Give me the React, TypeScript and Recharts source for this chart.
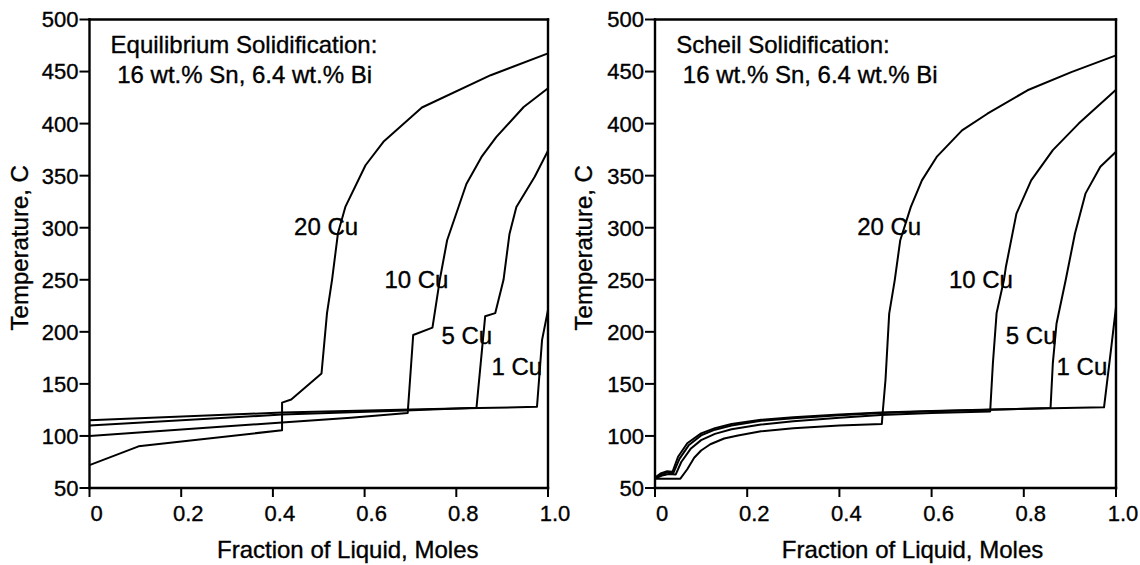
import React from 'react';
import { LineChart, Line, XAxis, YAxis, ReferenceDot } from 'recharts';

const FONT = '"Liberation Sans", Arial, Helvetica, sans-serif';

const xTicks = [0, 0.2, 0.4, 0.6, 0.8, 1.0];
const xTickLabels = ['0', '0.2', '0.4', '0.6', '0.8', '1.0'];
const yTicks = [50, 100, 150, 200, 250, 300, 350, 400, 450, 500];

// Equilibrium solidification, temperature (C) vs fraction of liquid
const eq1Cu = [
  { x: 0, t: 115 }, { x: 0.42, t: 122.5 }, { x: 0.7, t: 125.5 }, { x: 0.85, t: 126.8 },
  { x: 0.976, t: 128 }, { x: 0.987, t: 192 }, { x: 1.0, t: 221 },
];
const eq5Cu = [
  { x: 0, t: 110 }, { x: 0.42, t: 120.5 }, { x: 0.69, t: 124.5 }, { x: 0.844, t: 127 },
  { x: 0.863, t: 215 }, { x: 0.885, t: 218 }, { x: 0.903, t: 250 }, { x: 0.916, t: 294 },
  { x: 0.931, t: 320 }, { x: 0.971, t: 349 }, { x: 1.0, t: 374 },
];
const eq10Cu = [
  { x: 0, t: 100 }, { x: 0.1, t: 103 }, { x: 0.42, t: 113 }, { x: 0.57, t: 117.5 },
  { x: 0.694, t: 122 }, { x: 0.706, t: 197 }, { x: 0.748, t: 204 }, { x: 0.764, t: 250 },
  { x: 0.78, t: 288 }, { x: 0.822, t: 342 }, { x: 0.855, t: 368 }, { x: 0.887, t: 387 },
  { x: 0.947, t: 416 }, { x: 1.0, t: 434 },
];
const eq20Cu = [
  { x: 0, t: 72 }, { x: 0.107, t: 90 }, { x: 0.42, t: 105.5 }, { x: 0.42, t: 132 },
  { x: 0.44, t: 135 }, { x: 0.506, t: 160 }, { x: 0.518, t: 218 }, { x: 0.529, t: 250 },
  { x: 0.542, t: 295 }, { x: 0.558, t: 320 }, { x: 0.602, t: 360 }, { x: 0.641, t: 382.5 },
  { x: 0.725, t: 415.5 }, { x: 0.875, t: 446.5 }, { x: 1.0, t: 467.5 },
];

// Scheil solidification
const sc1Cu = [
  { x: 0, t: 60 }, { x: 0.012, t: 64 }, { x: 0.025, t: 66 }, { x: 0.038, t: 65.5 },
  { x: 0.05, t: 80 }, { x: 0.07, t: 93 }, { x: 0.1, t: 102.5 }, { x: 0.13, t: 107.5 },
  { x: 0.166, t: 111.5 }, { x: 0.23, t: 115.5 }, { x: 0.3, t: 118 }, { x: 0.4, t: 120.5 },
  { x: 0.49, t: 122.5 }, { x: 0.6, t: 124 }, { x: 0.73, t: 125.5 }, { x: 0.86, t: 126.5 },
  { x: 0.974, t: 127.5 }, { x: 0.99, t: 186 }, { x: 1.0, t: 224 },
];
const sc5Cu = [
  { x: 0, t: 59.5 }, { x: 0.013, t: 63 }, { x: 0.027, t: 65 }, { x: 0.04, t: 64.5 },
  { x: 0.053, t: 78 }, { x: 0.073, t: 91 }, { x: 0.1, t: 100.5 }, { x: 0.13, t: 106 },
  { x: 0.166, t: 110 }, { x: 0.23, t: 114.5 }, { x: 0.3, t: 117 }, { x: 0.4, t: 119.8 },
  { x: 0.49, t: 122 }, { x: 0.6, t: 123.8 }, { x: 0.73, t: 125.2 }, { x: 0.858, t: 126.8 },
  { x: 0.863, t: 170 }, { x: 0.871, t: 208 }, { x: 0.891, t: 250 }, { x: 0.911, t: 294.5 },
  { x: 0.934, t: 333 }, { x: 0.966, t: 358.5 }, { x: 1.0, t: 373 },
];
const sc10Cu = [
  { x: 0, t: 59 }, { x: 0.015, t: 62 }, { x: 0.03, t: 63.5 }, { x: 0.045, t: 63 },
  { x: 0.057, t: 75 }, { x: 0.078, t: 88 }, { x: 0.1, t: 96 }, { x: 0.13, t: 102 },
  { x: 0.166, t: 106.5 }, { x: 0.23, t: 111 }, { x: 0.3, t: 114 }, { x: 0.4, t: 117.5 },
  { x: 0.49, t: 120 }, { x: 0.6, t: 122 }, { x: 0.727, t: 123.5 }, { x: 0.733, t: 170 },
  { x: 0.741, t: 218 }, { x: 0.757, t: 250 }, { x: 0.761, t: 262 }, { x: 0.784, t: 313.5 },
  { x: 0.816, t: 345.5 }, { x: 0.863, t: 374.5 }, { x: 0.919, t: 400 }, { x: 1.0, t: 432.5 },
];
const sc20Cu = [
  { x: 0, t: 59 }, { x: 0.055, t: 59 }, { x: 0.07, t: 68 }, { x: 0.085, t: 79 },
  { x: 0.1, t: 86 }, { x: 0.12, t: 92 }, { x: 0.15, t: 97.5 }, { x: 0.18, t: 100.5 },
  { x: 0.23, t: 104.5 }, { x: 0.3, t: 107.5 }, { x: 0.4, t: 110 }, { x: 0.492, t: 111.5 },
  { x: 0.494, t: 123 }, { x: 0.5, t: 154 }, { x: 0.508, t: 217.5 }, { x: 0.52, t: 249.5 },
  { x: 0.532, t: 288 }, { x: 0.555, t: 320 }, { x: 0.579, t: 345.5 }, { x: 0.611, t: 368 },
  { x: 0.666, t: 393.5 }, { x: 0.721, t: 409.5 }, { x: 0.808, t: 432 }, { x: 0.903, t: 449.5 },
  { x: 1.0, t: 465.5 },
];

const curveNames = ['20 Cu', '10 Cu', '5 Cu', '1 Cu'];
// where each curve name sits, in data units (fraction, C)
const eqNameAt = [
  { x: 0.516, t: 301.5 }, { x: 0.713, t: 250 }, { x: 0.823, t: 197 }, { x: 0.932, t: 166.5 },
];
const scNameAt = [
  { x: 0.508, t: 301.5 }, { x: 0.707, t: 250 }, { x: 0.816, t: 197 }, { x: 0.926, t: 166.5 },
];

const composition = ' 16 wt.% Sn, 6.4 wt.% Bi';

// the scanned original has heavy type, a thin outline gets close to it
const ink = { fill: '#000', stroke: '#000', strokeWidth: 0.35 };

const XTick = (props: any) => {
  const { x, y, payload } = props;
  const i = xTicks.indexOf(payload.value);
  return (
    <text x={x + 7} y={y + 22} textAnchor="middle" fontSize={22} fontFamily={FONT} {...ink}>
      {i >= 0 ? xTickLabels[i] : payload.value}
    </text>
  );
};

const YTick = (props: any) => {
  const { x, y, payload } = props;
  return (
    <text x={x} y={y} dy="0.36em" textAnchor="end" fontSize={22} fontFamily={FONT} {...ink}>
      {payload.value}
    </text>
  );
};

const XTitle = (props: any) => {
  const { viewBox, shift } = props;
  return (
    <text x={viewBox.x + viewBox.width / 2 + shift} y={558} textAnchor="middle" fontSize={24} fontFamily={FONT} {...ink}>
      Fraction of Liquid, Moles
    </text>
  );
};

const YTitle = (props: any) => {
  const { viewBox, base } = props;
  const cx = base;
  const cy = viewBox.y + viewBox.height / 2 - 6;
  return (
    <text x={cx} y={cy} transform={`rotate(-90 ${cx} ${cy})`} textAnchor="middle" fontSize={24} fontFamily={FONT} {...ink}>
      Temperature, C
    </text>
  );
};

const textShape = (value: string, anchor: 'start' | 'middle', middle: boolean) => (p: any) => (
  <text
    x={p.cx}
    y={p.cy}
    dy={middle ? '0.36em' : 0}
    textAnchor={anchor}
    fontSize={24}
    fontFamily={FONT}
    {...ink}
    style={{ whiteSpace: 'pre' }}
  >
    {value}
  </text>
);

const axisStyle = { stroke: '#000', strokeWidth: 2.4, strokeLinecap: 'square' as const };
const tickStyle = { stroke: '#000', strokeWidth: 2 };

interface PanelProps {
  series: { x: number; t: number }[][];
  heading: string;
  nameAt: { x: number; t: number }[];
  margin: { top: number; right: number; left: number; bottom: number };
  yTitleBase: number;
  xTitleShift: number;
}

const Panel: React.FC<PanelProps> = ({ series, heading, nameAt, margin, yTitleBase, xTitleShift }) => (
  <LineChart width={570} height={565} margin={margin} style={{ fontFamily: FONT }}>
    <XAxis
      xAxisId="b"
      dataKey="x"
      type="number"
      domain={[0, 1]}
      ticks={xTicks}
      height={50}
      tickSize={9}
      tickMargin={2}
      axisLine={axisStyle}
      tickLine={tickStyle}
      tick={<XTick />}
      label={<XTitle shift={xTitleShift} />}
    />
    <XAxis
      xAxisId="t"
      orientation="top"
      dataKey="x"
      type="number"
      domain={[0, 1]}
      ticks={xTicks}
      height={1}
      tickSize={10}
      axisLine={axisStyle}
      tickLine={tickStyle}
      tick={false}
    />
    <YAxis
      yAxisId="l"
      type="number"
      domain={[50, 500]}
      ticks={yTicks}
      width={70}
      tickSize={10}
      tickMargin={1}
      axisLine={axisStyle}
      tickLine={tickStyle}
      tick={<YTick />}
      label={<YTitle base={yTitleBase} />}
    />
    <YAxis
      yAxisId="r"
      orientation="right"
      type="number"
      domain={[50, 500]}
      ticks={yTicks}
      width={2}
      tickSize={10}
      axisLine={axisStyle}
      tickLine={tickStyle}
      tick={false}
    />
    {series.map((d, i) => (
      <Line
        key={i}
        xAxisId="b"
        yAxisId="l"
        data={d}
        dataKey="t"
        type="linear"
        stroke="#000"
        strokeWidth={2}
        strokeLinejoin="round"
        dot={false}
        activeDot={false}
        isAnimationActive={false}
      />
    ))}
    {curveNames.map((name, i) => (
      <ReferenceDot
        key={name}
        xAxisId="b"
        yAxisId="l"
        x={nameAt[i].x}
        y={nameAt[i].t}
        r={1}
        ifOverflow="visible"
        shape={textShape(name, 'middle', true)}
      />
    ))}
    <ReferenceDot xAxisId="b" yAxisId="l" x={0.046} y={468} r={1} ifOverflow="visible" shape={textShape(heading, 'start', false)} />
    <ReferenceDot xAxisId="b" yAxisId="l" x={0.046} y={439} r={1} ifOverflow="visible" shape={textShape(composition, 'start', false)} />
  </LineChart>
);

export default function App() {
  return (
    <div style={{ position: 'absolute', left: 0, top: 0, width: 1140, height: 565, background: '#fff', overflow: 'hidden' }}>
      <div style={{ position: 'absolute', left: 0, top: 0 }}>
        <Panel
          series={[eq1Cu, eq5Cu, eq10Cu, eq20Cu]}
          heading="Equilibrium Solidification:"
          nameAt={eqNameAt}
          margin={{ top: 18.5, right: 20, left: 19.5, bottom: 27 }}
          yTitleBase={28}
          xTitleShift={29}
        />
      </div>
      <div style={{ position: 'absolute', left: 570, top: 0 }}>
        <Panel
          series={[sc1Cu, sc5Cu, sc10Cu, sc20Cu]}
          heading="Scheil Solidification:"
          nameAt={scNameAt}
          margin={{ top: 18.5, right: 22, left: 15, bottom: 27 }}
          yTitleBase={21.5}
          xTitleShift={27}
        />
      </div>
    </div>
  );
}
